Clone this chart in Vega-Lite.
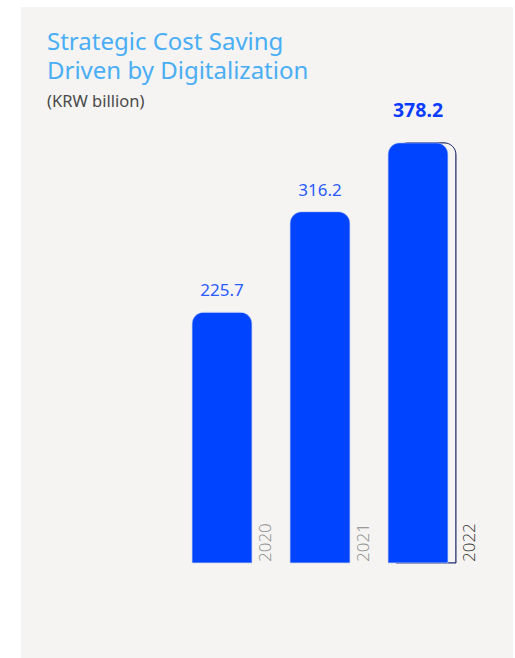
{
  "$schema": "https://vega.github.io/schema/vega-lite/v6.json",
  "width": 492,
  "height": 651,
  "autosize": {"type": "none"},
  "padding": {"left": 21, "top": 7, "right": 2, "bottom": 0},
  "background": "#ffffff",
  "config": {"view": {"fill": "#f5f4f2", "stroke": null}, "font": "Noto Sans"},
  "title": {
    "text": ["Strategic Cost Saving", "Driven by Digitalization"],
    "subtitle": "(KRW billion)",
    "anchor": "start",
    "frame": "group",
    "orient": "top",
    "dx": 26,
    "offset": -103,
    "font": "Noto Sans",
    "fontSize": 24,
    "fontWeight": "normal",
    "color": "#4aaef5",
    "lineHeight": 29,
    "subtitleFont": "Noto Sans",
    "subtitleFontSize": 16.5,
    "subtitleColor": "#4a4a4a",
    "subtitlePadding": 10
  },
  "data": {
    "values": [
      {"year": "2020", "value": 225.7},
      {"year": "2021", "value": 316.2},
      {"year": "2022", "value": 378.2}
    ]
  },
  "encoding": {
    "x": {"field": "year", "type": "ordinal", "axis": null, "scale": {"range": [152, 446], "paddingInner": 0, "paddingOuter": 0}},
    "y": {"field": "value", "type": "quantitative", "axis": null, "scale": {"domain": [0, 500.4], "range": [556, 0], "nice": false, "zero": true}}
  },
  "layer": [
    {
      "transform": [{"filter": "datum.year == '2022'"}],
      "mark": {"type": "bar", "width": 60, "xOffset": 8, "cornerRadiusTopLeft": 12, "cornerRadiusTopRight": 12, "fill": "#f5f4f2", "stroke": "#1f2d6e", "strokeWidth": 1}
    },
    {
      "mark": {"type": "bar", "width": 60, "cornerRadiusTopLeft": 12, "cornerRadiusTopRight": 12, "fill": "#0044ff", "stroke": "#b8c6ec", "strokeWidth": 0.5}
    },
    {
      "transform": [{"filter": "datum.year != '2022'"}],
      "mark": {"type": "text", "baseline": "middle", "align": "center", "yOffset": -21, "fontSize": 17, "color": "#2a5cff", "font": "Noto Sans"},
      "encoding": {"text": {"field": "value", "type": "quantitative", "format": ".1f"}}
    },
    {
      "transform": [{"filter": "datum.year == '2022'"}],
      "mark": {"type": "text", "baseline": "middle", "align": "center", "yOffset": -32, "fontSize": 19.5, "fontWeight": "bold", "color": "#0a3cff", "font": "Noto Sans"},
      "encoding": {"text": {"field": "value", "type": "quantitative", "format": ".1f"}}
    },
    {
      "transform": [{"filter": "datum.year != '2022'"}],
      "mark": {"type": "text", "angle": 270, "align": "left", "baseline": "middle", "xOffset": 44, "yOffset": -1, "fontSize": 17, "fontWeight": 300, "font": "Open Sans", "color": "#8a8a8a"},
      "encoding": {"y": {"datum": 0, "type": "quantitative"}, "text": {"field": "year"}}
    },
    {
      "transform": [{"filter": "datum.year == '2022'"}],
      "mark": {"type": "text", "angle": 270, "align": "left", "baseline": "middle", "xOffset": 52, "yOffset": -1, "fontSize": 17, "fontWeight": 300, "font": "Open Sans", "color": "#333333"},
      "encoding": {"y": {"datum": 0, "type": "quantitative"}, "text": {"field": "year"}}
    }
  ]
}
